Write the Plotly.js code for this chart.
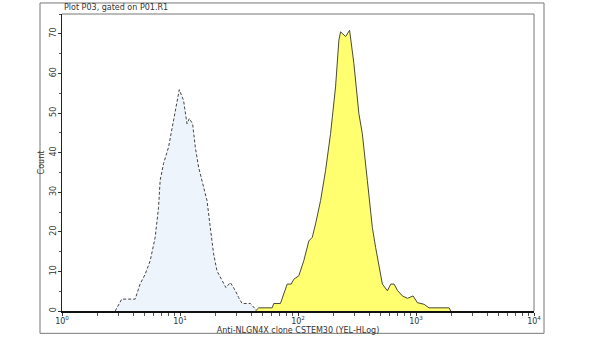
<!DOCTYPE html>
<html>
<head>
<meta charset="utf-8">
<script src="https://cdn.plot.ly/plotly-3.0.1.min.js"></script>
<style>html,body{margin:0;padding:0;background:#fff;}#chart{width:600px;height:338px;}</style>
</head>
<body>
<div id="chart"></div>
<script>
// Control (isotype) histogram - dashed outline
const controlX = [2.82, 3.21, 4.17, 4.59, 5.07, 5.59, 6.16, 6.58, 6.79, 7.25, 8.00, 8.81, 9.42, 9.86, 10.72, 11.46, 11.99, 12.79, 13.48, 14.38, 15.85, 16.94, 18.06, 19.28, 20.6, 22.7, 24.5, 26.7, 29.5, 31.4, 33.6, 39.5, 45.0];
const controlY = [0, 3, 3, 6.8, 9.3, 12.7, 18.6, 26.2, 33, 37.2, 41.4, 48.1, 53.2, 55.9, 53.2, 47.3, 48.6, 47.3, 41.4, 36.3, 31.3, 27.9, 21.1, 14.4, 10.1, 7.6, 5.9, 7.2, 5.1, 3.4, 1.9, 1.9, 0];
// Stained sample histogram - yellow
const sampleX = [43.6, 46.5, 60.4, 62.3, 71.0, 81.0, 87.5, 92.1, 101.6, 112.0, 123.6, 132.1, 140.9, 155.4, 171.3, 188.8, 208.1, 222.1, 229.6, 253.2, 273.6, 297.6, 328.2, 350.8, 386.9, 426.6, 455.1, 485.6, 518.8, 572.2, 610.8, 651.6, 696.4, 767.7, 846.4, 944.7, 1028, 1170, 1290, 1909, 1972];
const sampleY = [0, 0.8, 0.8, 1.9, 1.9, 6.8, 6.8, 8, 8.9, 12.7, 17.7, 18.6, 22, 27.9, 35.5, 44.8, 56.6, 68.4, 70.5, 69.3, 70.9, 62.5, 49.8, 44.8, 33, 21.1, 16, 11.8, 6.8, 5.1, 6.8, 6.8, 5.2, 3.8, 3.2, 3.8, 2.1, 1.7, 0.8, 0.8, 0];
const xTickVals = [1, 10, 100, 1000, 10000];
const xTickText = ['10<sup>0</sup>', '10<sup>1</sup>', '10<sup>2</sup>', '10<sup>3</sup>', '10<sup>4</sup>'];
const yTickVals = [0, 10, 20, 30, 40, 50, 60, 70];
const plotTitle = 'Plot P03, gated on P01.R1';
const xTitle = 'Anti-NLGN4X clone CSTEM30 (YEL-HLog)';
const yTitle = 'Count';

const font = {family: 'DejaVu Sans, Verdana, sans-serif', size: 8, color: '#333'};

const traces = [
  {x: controlX, y: controlY, type: 'scatter', mode: 'lines', fill: 'tozeroy',
   fillcolor: '#eef4fb', line: {color: '#444', width: 1, dash: '3px,2px'}, hoverinfo: 'skip'},
  {x: sampleX, y: sampleY, type: 'scatter', mode: 'lines', fill: 'tozeroy',
   fillcolor: '#ffff70', line: {color: '#4a4a38', width: 1}, hoverinfo: 'skip'}
];

const layout = {
  width: 600, height: 338,
  margin: {l: 62, r: 66, t: 14, b: 27.3},
  paper_bgcolor: '#fff', plot_bgcolor: '#fff',
  showlegend: false,
  font: font,
  xaxis: {
    type: 'log', range: [0, 4], tickvals: xTickVals, ticktext: xTickText,
    ticks: 'outside', ticklen: 3, tickcolor: '#333', tickfont: font, ticklabelstandoff: -2,
    showgrid: false, zeroline: false, showline: true, linecolor: '#111', linewidth: 2,
    minor: {dtick: 'D1', ticks: 'outside', ticklen: 3, tickcolor: '#555', showgrid: false},
    title: {text: xTitle, font: font, standoff: 0}
  },
  yaxis: {
    range: [0, 75], tickvals: yTickVals, tickangle: -90,
    ticks: 'outside', ticklen: 3, tickcolor: '#333', tickfont: font, ticklabelstandoff: -1,
    showgrid: false, zeroline: false, showline: true, linecolor: '#222', linewidth: 1,
    minor: {dtick: 5, ticks: 'outside', ticklen: 2, tickcolor: '#555', showgrid: false},
    title: {text: yTitle, font: font, standoff: 2}
  },
  shapes: [
    {type: 'rect', xref: 'paper', yref: 'paper', x0: -0.0466, x1: 1.0212, y0: -0.0752, y1: 1.0371,
     line: {color: '#777', width: 1}, fillcolor: 'rgba(0,0,0,0)', layer: 'below'},
    {type: 'line', xref: 'paper', yref: 'paper', x0: 0, x1: 1, y0: 1, y1: 1, line: {color: '#777', width: 1}},
    {type: 'line', xref: 'paper', yref: 'paper', x0: 1, x1: 1, y0: 0, y1: 1, line: {color: '#777', width: 1}}
  ],
  annotations: [
    {text: plotTitle, xref: 'paper', yref: 'paper', x: 0, y: 1, xanchor: 'left', yanchor: 'bottom',
     yshift: 0, showarrow: false, font: font}
  ]
};

Plotly.newPlot('chart', traces, layout, {staticPlot: true, displayModeBar: false});
</script>
</body>
</html>
